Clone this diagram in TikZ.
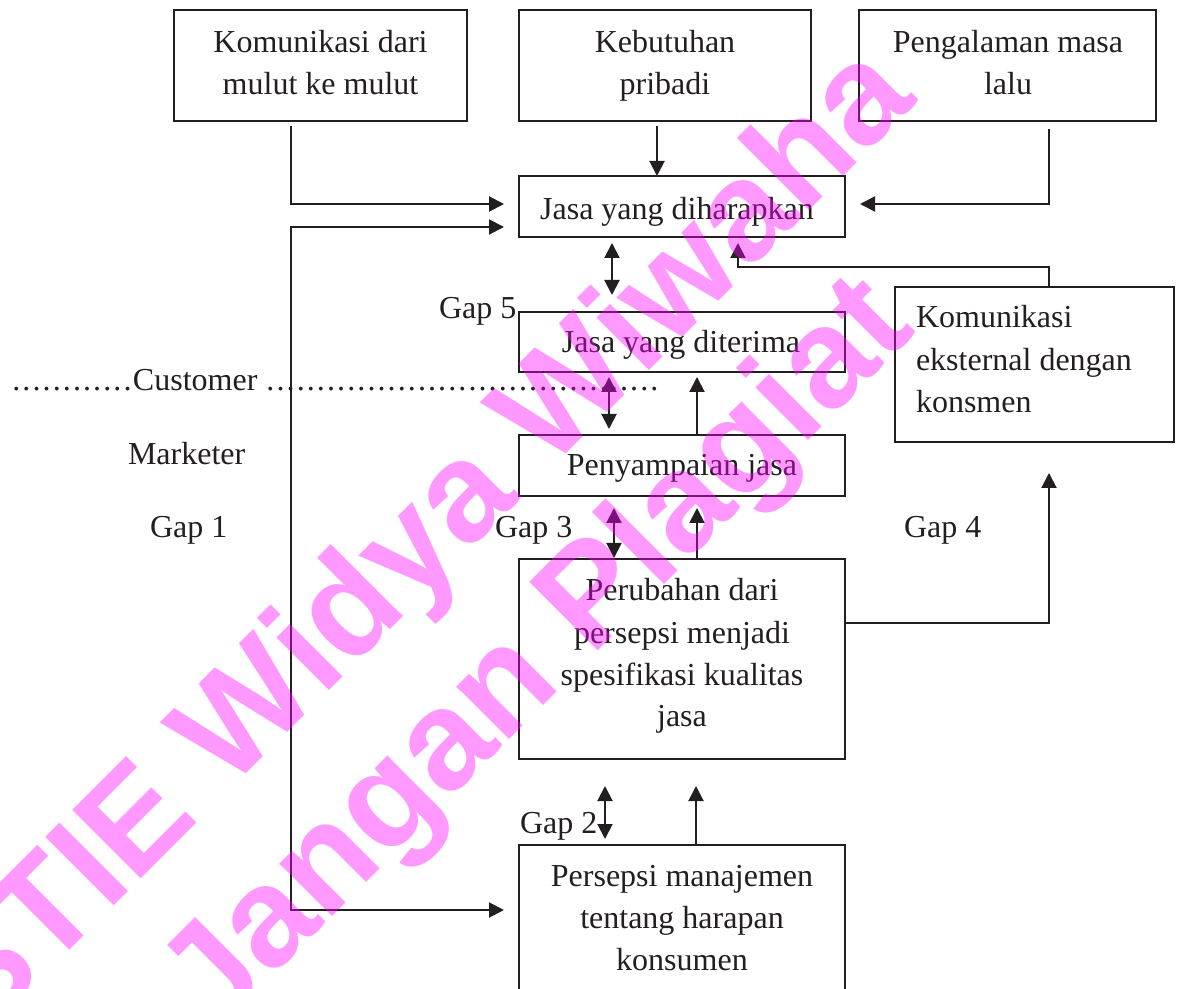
\documentclass[tikz,border=0pt]{standalone}
\usepackage{fontspec}
\setmainfont{Liberation Serif}
\newfontfamily\wmfont{Liberation Sans}
\usetikzlibrary{arrows.meta}
\definecolor{ink}{RGB}{35,31,32}
\definecolor{wmpink}{RGB}{255,0,255}
\newcommand\mkbox[5]{\node[box, minimum width={(#4-#2)*0.5pt}, minimum height={(#5-#3)*0.5pt}] (#1) at ({(#2+#4)/2},{(#3+#5)/2}) {};}
\begin{document}
\begin{tikzpicture}[x=0.5pt,y=-0.5pt,
  box/.style={draw=ink, line width=1pt, fill=white, inner sep=0pt, outer sep=0pt},
  txt/.style={inner sep=0pt, outer sep=0pt, text=ink, font=\fontsize{16}{21}\selectfont, anchor=base},
  lbl/.style={txt, anchor=base west},
  conn/.style={draw=ink, line width=1pt},
  arr/.style={conn, -{Triangle[length=7.5pt,width=7.5pt]}},
  darr/.style={conn, {Triangle[length=7.5pt,width=7.5pt]}-{Triangle[length=7.5pt,width=7.5pt]}},
  wm/.style={inner sep=0pt, outer sep=0pt, text=wmpink, text opacity=0.4, font=\wmfont\bfseries\fontsize{70.4}{75}\selectfont, rotate=45, anchor=base west}
]
\useasboundingbox (0,0) rectangle (1184,989);
\clip (0,0) rectangle (1184,989);
\fill[white] (0,0) rectangle (1184,989);

% boxes
\mkbox{A}{174}{10}{467}{121}
\mkbox{B}{519}{10}{811}{121}
\mkbox{C}{859}{10}{1156}{121}
\mkbox{D}{519}{176}{845}{237}
\mkbox{E}{519}{312}{845}{372}
\mkbox{F}{519}{435}{845}{496}
\mkbox{H}{895}{287}{1174}{442}
\mkbox{G}{519}{559}{845}{759}
\mkbox{P}{519}{845}{845}{1010}

% box texts
\node[txt] (a1) at (320.5,53) {Komunikasi dari};
\node[txt] (a2) at (320.5,95) {mulut ke mulut};
\node[txt] (b1) at (665,53) {Kebutuhan};
\node[txt] (b2) at (665,95) {pribadi};
\node[txt] (c1) at (1008,53) {Pengalaman masa};
\node[txt] (c2) at (1008,95) {lalu};
\node[txt] (d1) at (677,220) {Jasa yang diharapkan};
\node[txt] (e1) at (681,353) {Jasa yang diterima};
\node[txt] (f1) at (682,476) {Penyampaian jasa};
\node[lbl] (h1) at (916,328) {Komunikasi};
\node[lbl] (h2) at (916,371) {eksternal dengan};
\node[lbl] (h3) at (916,413) {konsmen};
\node[txt] (g1) at (682,601) {Perubahan dari};
\node[txt] (g2) at (682,643) {persepsi menjadi};
\node[txt] (g3) at (682,685) {spesifikasi kualitas};
\node[txt] (g4) at (682,726) {jasa};
\node[txt] (p1) at (682,886) {Persepsi manajemen};
\node[txt] (p2) at (682,928) {tentang harapan};
\node[txt] (p3) at (682,970) {konsumen};

% labels
\node[lbl] (gap5) at (439,319) {Gap 5};
\node[lbl] (gap1) at (150,538) {Gap 1};
\node[lbl] (gap3) at (495,538) {Gap 3};
\node[lbl] (gap4) at (904,538) {Gap 4};
\node[lbl] (gap2) at (520,833) {Gap 2};
\node[lbl] (mkt) at (128,465) {Marketer};
\node[lbl] (cust) at (11,391) {\hbox to 61pt{\xleaders\hbox to 4.7pt{\hss.\hss}\hfill}Customer\hspace{4pt}\hbox to 197pt{\xleaders\hbox to 5.05pt{\hss.\hss}\hfill}};

% connectors
\draw[arr] ([shift={(-29.5,5)}]A.south) |- ([shift={(-15,-2.5)}]D.west);
\draw[darr] ([shift={(-15,20.5)}]D.west) -- ++(-213,0) |- ([shift={(-15,65)}]P.north west);
\draw[arr] ([shift={(-8,5)}]B.south) -- ([shift={(-25,0)}]D.north);
\draw[arr] ([shift={(41.5,8)}]C.south) |- ([shift={(15,-2.5)}]D.east);
\draw[arr] ([shift={(14.5,0)}]H.north) -- ++(0,-20) -| ([shift={(56,6)}]D.south);
\draw[darr] ([shift={(-70,6)}]D.south) -- ([shift={(-70,-17)}]E.north);
\draw[darr] ([shift={(-73,5)}]E.south) -- ([shift={(-73,-6)}]F.north);
\draw[arr] ([shift={(15,0)}]F.north) -- ([shift={(15,5)}]E.south);
\draw[darr] ([shift={(-68,12)}]F.south) -- ([shift={(-68,-1)}]G.north);
\draw[arr] ([shift={(15,0)}]G.north) -- ([shift={(15,12)}]F.south);
\draw[arr] ([shift={(0,-36)}]G.east) -| ([shift={(14.5,31)}]H.south);
\draw[darr] ([shift={(-77,27)}]G.south) -- ([shift={(-77,-6)}]P.north);
\draw[arr] ([shift={(14,0)}]P.north) -- ([shift={(14,27)}]G.south);

% watermark
\node[wm] (wm1) at (-20,1040) {STIE Widya Wiwaha};
\node[wm] (wm2) at (215,1034) {Jangan Plagiat};
\end{tikzpicture}
\end{document}
